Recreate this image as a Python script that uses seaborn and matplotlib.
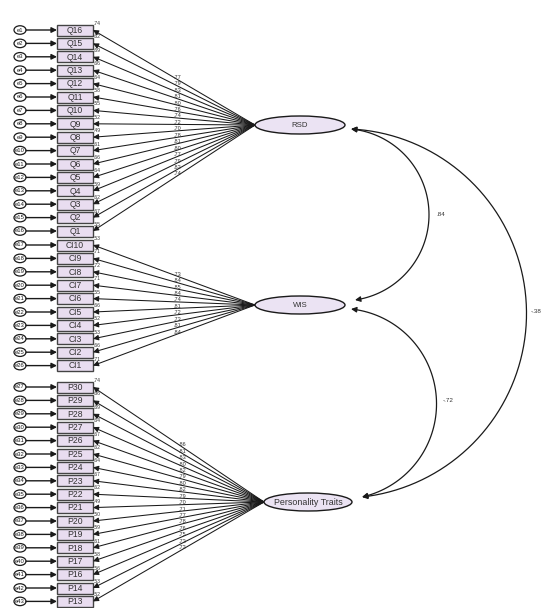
import numpy as np
import matplotlib
matplotlib.use("Agg")
import matplotlib.pyplot as plt
import seaborn as sns
from matplotlib.patches import Ellipse, Rectangle, FancyArrowPatch
from matplotlib.path import Path

# ---- model data ----
q_items = ["Q16", "Q15", "Q14", "Q13", "Q12", "Q11", "Q10", "Q9",
           "Q8", "Q7", "Q6", "Q5", "Q4", "Q3", "Q2", "Q1"]
q_loadings = [.77, .79, .83, .81, .80, .76, .74, .72,
              .70, .78, .81, .80, .77, .79, .82, .74]
q_r2 = [.74, .62, .69, .66, .64, .58, .55, .52,
        .49, .61, .66, .64, .59, .62, .67, .55]

ci_items = ["CI10", "CI9", "CI8", "CI7", "CI6", "CI5", "CI4", "CI3", "CI2", "CI1"]
ci_loadings = [.73, .84, .85, .84, .74, .81, .72, .73, .81, .84]
ci_r2 = [.53, .71, .72, .71, .55, .66, .52, .53, .66, .71]

p_items = ["P30", "P29", "P28", "P27", "P26", "P25", "P24", "P23", "P22",
           "P21", "P20", "P19", "P18", "P17", "P16", "P14", "P13"]
p_loadings = [.86, .81, .83, .80, .82, .79, .80, .82, .79,
              .70, .71, .77, .78, .76, .75, .73, .72]
p_r2 = [.74, .66, .69, .64, .67, .62, .64, .67, .62,
        .49, .50, .59, .61, .58, .56, .53, .52]

factors = ["RSD", "WIS", "Personality Traits"]
cov_pairs = [("RSD", "WIS"), ("WIS", "Personality Traits"), ("RSD", "Personality Traits")]
cov_values = [.84, -.72, -.38]

# ---- layout ----
ROW = 13.4
BLOCK_TOP = [30, 245, 387]
BOX_X0, BOX_X1, BOX_H = 57, 93, 11
ERR_X = 20
LAT_X = [300, 300, 308]
LAT_Y = [125, 305, 502]
LAT_W = [90, 90, 88]
LAT_H = 18
ARC_BULGE = [76, 80, 170]
ARC_LABEL_DX = [12, 12, 10]

BOX_FILL = "#e9ddf0"
LAT_FILL = "#ebe3f3"
INK = "#1a1a1a"


def fmt(v):
    s = f"{v:.2f}"
    return s.replace("0.", ".")


def arc_path(p0, p1, bulge, n=80):
    p0, p1 = np.asarray(p0, float), np.asarray(p1, float)
    d = p1 - p0
    L = np.hypot(*d)
    c = L / 2
    nrm = np.array([d[1], -d[0]]) / L
    r = (c ** 2 + bulge ** 2) / (2 * bulge)
    mid = (p0 + p1) / 2
    centre = mid + bulge * nrm - r * nrm
    theta = np.arctan2(c, r - bulge)
    a_n = np.arctan2(nrm[1], nrm[0])
    ang = np.linspace(a_n - theta, a_n + theta, n)
    pts = np.column_stack([centre[0] + r * np.cos(ang), centre[1] + r * np.sin(ang)])
    if np.hypot(*(pts[0] - p0)) > np.hypot(*(pts[0] - p1)):
        pts = pts[::-1]
    return pts


sns.set_theme(style="white")
plt.rcParams["font.family"] = ["Liberation Sans", "DejaVu Sans"]

fig = plt.figure(figsize=(5.46, 6.08), dpi=100)
ax = fig.add_axes([0, 0, 1, 1])
ax.set_xlim(0, 546)
ax.set_ylim(608, 0)
ax.axis("off")

blocks = [(q_items, q_loadings, q_r2), (ci_items, ci_loadings, ci_r2), (p_items, p_loadings, p_r2)]
err_no = 1
for b, (items, loads, r2s) in enumerate(blocks):
    tip = (LAT_X[b] - LAT_W[b] / 2, LAT_Y[b])
    for i, (name, lo, r2) in enumerate(zip(items, loads, r2s)):
        y = BLOCK_TOP[b] + i * ROW
        # error term
        ax.add_patch(Ellipse((ERR_X, y), 12, 8.5, fc="white", ec=INK, lw=0.9, zorder=3))
        ax.text(ERR_X, y, f"e{err_no}", fontsize=4.2, ha="center", va="center", color=INK, zorder=4)
        err_no += 1
        ax.annotate("", xy=(BOX_X0, y), xytext=(ERR_X + 6, y),
                    arrowprops=dict(arrowstyle="-|>", lw=1.0, color=INK,
                                    mutation_scale=8, shrinkA=0, shrinkB=0))
        # observed indicator
        ax.add_patch(Rectangle((BOX_X0, y - BOX_H / 2), BOX_X1 - BOX_X0, BOX_H,
                               fc=BOX_FILL, ec="#444444", lw=1.0, zorder=3))
        ax.text((BOX_X0 + BOX_X1) / 2, y + 0.3, name, fontsize=6.2, ha="center", va="center",
                color="#333333", zorder=4)
        ax.text(BOX_X1 + 1, y - 6.5, fmt(r2), fontsize=3.6, ha="left", va="center", color="#333333")
        # loading
        ax.annotate("", xy=(BOX_X1, y), xytext=tip,
                    arrowprops=dict(arrowstyle="-|>", lw=0.75, color=INK,
                                    mutation_scale=8, shrinkA=0, shrinkB=0))
        t = 0.52
        lx = BOX_X1 + t * (tip[0] - BOX_X1)
        ly = y + t * (tip[1] - y)
        ax.text(lx, ly - 2, fmt(lo), fontsize=4, ha="center", va="center", color="#333333")

# latent factors
for b, name in enumerate(factors):
    ax.add_patch(Ellipse((LAT_X[b], LAT_Y[b]), LAT_W[b], LAT_H, fc=LAT_FILL, ec=INK, lw=1.0, zorder=5))
    ax.text(LAT_X[b], LAT_Y[b] + 0.5, name, fontsize=6.4 if len(name) > 5 else 5.6,
            ha="center", va="center", color="#333333", zorder=6)

# covariances
for k, ((a, bname), val) in enumerate(zip(cov_pairs, cov_values)):
    ia, ib = factors.index(a), factors.index(bname)
    p0 = (LAT_X[ia] + LAT_W[ia] / 2 + 6, LAT_Y[ia] + 4)
    p1 = (LAT_X[ib] + LAT_W[ib] / 2 + 10, LAT_Y[ib] - 5)
    pts = arc_path(p0, p1, ARC_BULGE[k])
    ax.add_patch(FancyArrowPatch(path=Path(pts), arrowstyle="<|-|>", mutation_scale=8,
                                 lw=0.9, color=INK, zorder=2))
    apex = pts[len(pts) // 2]
    ax.text(apex[0] + ARC_LABEL_DX[k], apex[1], fmt(val), fontsize=4.5,
            ha="center", va="center", color="#333333")

fig.savefig("out.png", dpi=100, facecolor="white")
